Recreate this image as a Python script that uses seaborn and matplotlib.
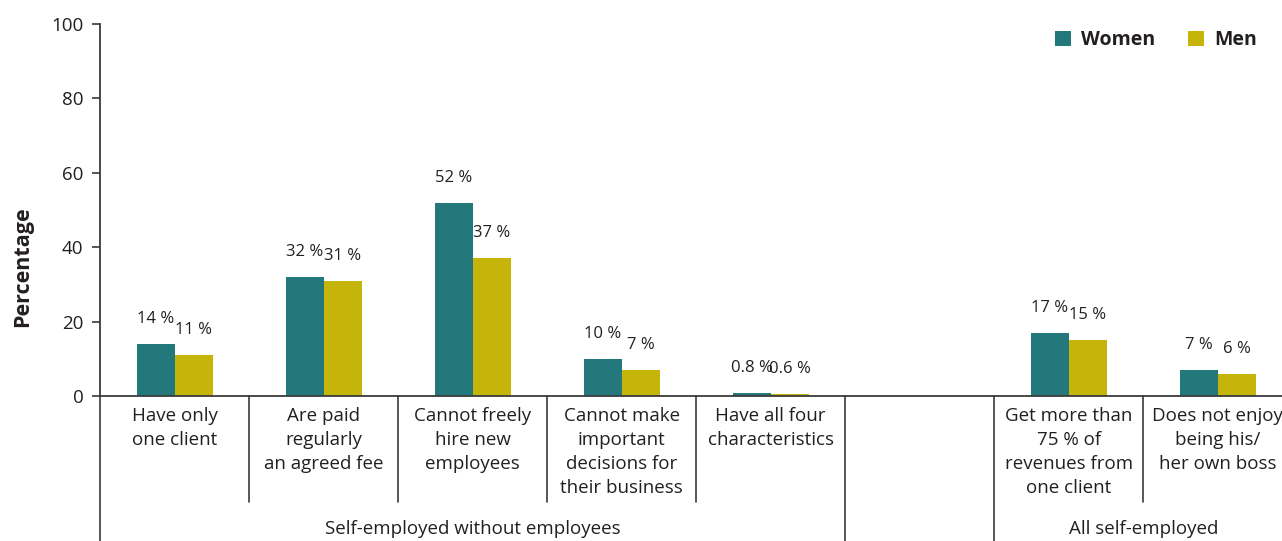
import matplotlib
matplotlib.use("Agg")
import matplotlib.pyplot as plt
import matplotlib.transforms as mtransforms
import seaborn as sns
import pandas as pd

# Survey indicators (x-axis categories) and shares by sex, in percent
categories = [
    "Have only\none client",
    "Are paid\nregularly\nan agreed fee",
    "Cannot freely\nhire new\nemployees",
    "Cannot make\nimportant\ndecisions for\ntheir business",
    "Have all four\ncharacteristics",
    "Get more than\n75 % of\nrevenues from\none client",
    "Does not enjoy\nbeing his/\nher own boss",
]
women = [14, 32, 52, 10, 0.8, 17, 7]
men = [11, 31, 37, 7, 0.6, 15, 6]
groups = ["Self-employed without employees", "All self-employed"]

GAP = " "  # empty slot separating the two groups
order = categories[:5] + [GAP] + categories[5:]

df = pd.DataFrame({
    "category": categories * 2,
    "sex": ["Women"] * len(categories) + ["Men"] * len(categories),
    "value": women + men,
})

sns.set_theme(style="white")
plt.rcParams["font.family"] = ["Open Sans", "DejaVu Sans"]
TXT = "#231f20"
AX = "#3a3a3a"
palette = {"Women": "#23787c", "Men": "#c5b40a"}

fig = plt.figure(figsize=(12.82, 5.41), dpi=100)
ax = fig.add_axes([100 / 1282, 145 / 541, 1 - 100 / 1282, 372 / 541])

sns.barplot(data=df, x="category", y="value", hue="sex", order=order,
            hue_order=["Women", "Men"], palette=palette, width=0.51,
            gap=0, saturation=1, ax=ax, legend=True, linewidth=0,
            edgecolor="none")

ax.set_ylim(0, 100)
ax.set_xlim(-0.5, 7.43)
ax.set_yticks([0, 20, 40, 60, 80, 100])
ax.tick_params(axis="y", length=6, width=1.2, color=AX, pad=6,
               labelsize=13.5, labelcolor=TXT, left=True)
ax.tick_params(axis="x", length=0, pad=8, labelsize=13.5, labelcolor=TXT)
ax.set_xticks(range(len(order)))
ax.set_xticklabels(order, linespacing=1.42)
ax.set_xlabel("")
ax.set_ylabel("Percentage", fontsize=15.5, fontweight="bold", color=TXT)
ax.yaxis.set_label_coords(-0.057, 0.347)

for side in ["top", "right"]:
    ax.spines[side].set_visible(False)
for side in ["left", "bottom"]:
    ax.spines[side].set_color(AX)
    ax.spines[side].set_linewidth(1.3)

# Value labels above each bar
for container, vals in zip(ax.containers, [women, men]):
    for rect, v in zip(container, vals):
        ax.annotate(f"{v:g} %", (rect.get_x() + rect.get_width() / 2, rect.get_height()),
                    xytext=(0, 18), textcoords="offset points", ha="center",
                    va="center", fontsize=12, color=TXT)

# Category separators below the axis; group boundaries run to the bottom
trans = mtransforms.blended_transform_factory(ax.transData, ax.transAxes)
short_y, long_y = -0.285, -0.40
for i in range(len(order)):
    b = i - 0.5
    is_group_edge = b in (-0.5, 4.5, 5.5)
    ax.plot([b, b], [0, long_y if is_group_edge else short_y], transform=trans,
            color=AX, lw=1.2, clip_on=False)

# Group labels
spans = [(-0.5, 4.5), (5.5, 7.5)]
for name, (a, b) in zip(groups, spans):
    ax.text((a + b) / 2, -0.357, name, transform=trans, ha="center", va="center",
            fontsize=13.5, color=TXT)

leg = ax.legend(loc="upper right", bbox_to_anchor=(0.994, 1.03), ncol=2, frameon=False,
                handlelength=0.8, handleheight=0.8, handletextpad=0.55,
                columnspacing=1.7, prop={"weight": "bold", "size": 14})
for t in leg.get_texts():
    t.set_color(TXT)

fig.savefig("out.png", dpi=100)
